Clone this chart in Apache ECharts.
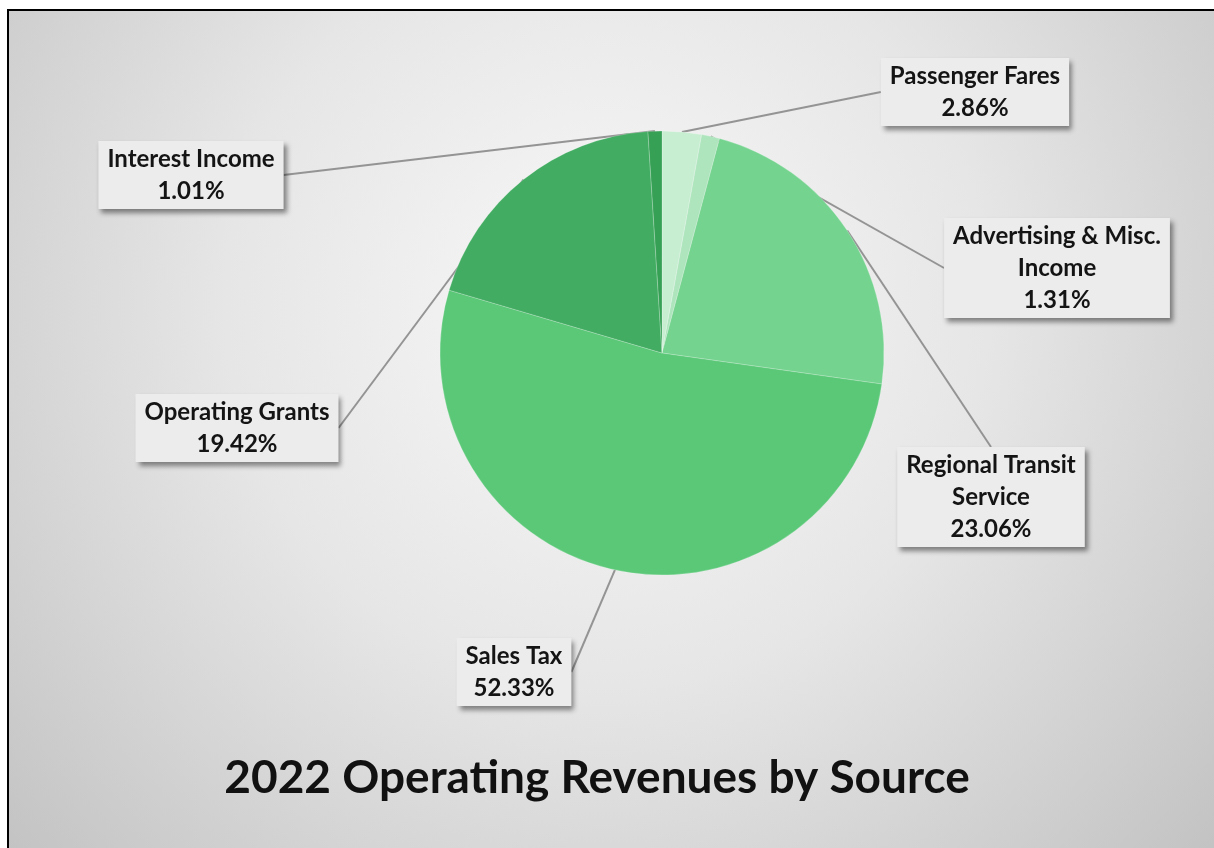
<!DOCTYPE html>
<html>
<head>
<meta charset="utf-8">
<title>2022 Operating Revenues by Source</title>
<script src="https://cdn.jsdelivr.net/npm/echarts@6/dist/echarts.min.js"></script>
<style>
  html, body { margin: 0; padding: 0; background: #ffffff; overflow: hidden; }
  #chart { width: 1214px; height: 848px; }
</style>
</head>
<body>
<div id="chart"></div>
<script>
// Revenue sources, clockwise from twelve o'clock
const categories = [
  'Passenger Fares',
  'Advertising & Misc. Income',
  'Regional Transit Service',
  'Sales Tax',
  'Operating Grants',
  'Interest Income'
];
// Share of operating revenue, percent
const shares = [2.86, 1.31, 23.06, 52.33, 19.42, 1.01];
// How each category name wraps inside its label box
const labelNames = [
  'Passenger Fares',
  'Advertising & Misc.\nIncome',
  'Regional Transit\nService',
  'Sales Tax',
  'Operating Grants',
  'Interest Income'
];
const sliceColors = ['#c8eed2', '#aee5bd', '#74d38e', '#5bc878', '#42ad62', '#36a055'];
// Centre of each label box on the canvas
const labelCenters = [[975, 92], [1057, 268], [991, 497], [514, 672], [237, 428], [191, 175]];

const chart = echarts.init(document.getElementById('chart'), null, { renderer: 'canvas' });

const FONT = 'Lato, "Open Sans", sans-serif';

chart.setOption({
  animation: false,
  backgroundColor: new echarts.graphic.RadialGradient(0.5, 0.36, 1.0, [
    { offset: 0, color: '#f8f8f8' },
    { offset: 0.45, color: '#e6e6e6' },
    { offset: 1, color: '#c0c0c0' }
  ]),
  title: {
    text: '2022 Operating Revenues by Source',
    left: 592,
    top: 750,
    textAlign: 'center',
    textStyle: {
      fontFamily: FONT,
      fontWeight: 'bold',
      fontSize: 46,
      color: '#111111'
    }
  },
  graphic: [
    { type: 'rect', shape: { x: 0, y: 0, width: 1214, height: 9 }, style: { fill: '#ffffff' }, silent: true },
    { type: 'rect', shape: { x: 0, y: 0, width: 7, height: 848 }, style: { fill: '#ffffff' }, silent: true },
    { type: 'rect', shape: { x: 7, y: 9, width: 1207, height: 2 }, style: { fill: '#000000' }, silent: true },
    { type: 'rect', shape: { x: 7, y: 9, width: 2, height: 839 }, style: { fill: '#000000' }, silent: true }
  ],
  series: [{
    type: 'pie',
    center: [662, 353],
    radius: 222,
    startAngle: 90,
    clockwise: true,
    silent: true,
    data: categories.map((name, i) => ({
      name: name,
      value: shares[i],
      itemStyle: { color: sliceColors[i] }
    })),
    itemStyle: {
      borderColor: 'rgba(255,255,255,0.35)',
      borderWidth: 0.6
    },
    label: {
      show: true,
      position: 'outside',
      formatter: (p) => labelNames[p.dataIndex] + '\n' + p.value.toFixed(2) + '%',
      fontFamily: FONT,
      fontWeight: 'bold',
      fontSize: 24,
      lineHeight: 32,
      color: '#141414',
      align: 'center',
      backgroundColor: '#ececec',
      padding: [2, 9],
      shadowColor: 'rgba(0,0,0,0.45)',
      shadowBlur: 5,
      shadowOffsetX: 3,
      shadowOffsetY: 4
    },
    labelLine: {
      show: true,
      length: 20,
      length2: 0,
      smooth: false,
      lineStyle: { color: '#949494', width: 2 }
    },
    labelLayout: (params) => ({
      x: labelCenters[params.dataIndex][0],
      y: labelCenters[params.dataIndex][1],
      align: 'center',
      verticalAlign: 'middle'
    })
  }]
});
</script>
</body>
</html>
